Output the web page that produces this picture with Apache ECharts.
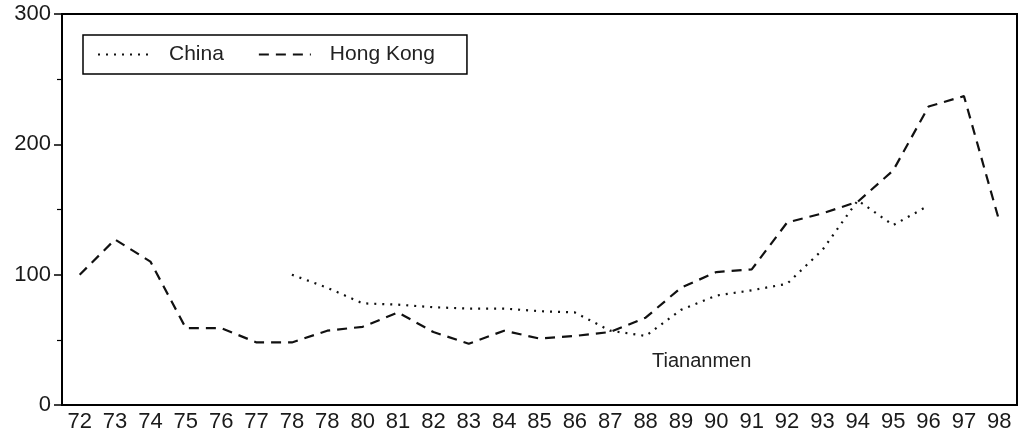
<!DOCTYPE html>
<html>
<head>
<meta charset="utf-8">
<script src="https://cdn.jsdelivr.net/npm/echarts@6/dist/echarts.min.js"></script>
<style>
html,body{margin:0;padding:0;background:#fff;}
#c{width:1029px;height:438px;}
</style>
</head>
<body>
<div id="c"></div>
<script>
const years = ['72','73','74','75','76','77','78','78','80','81','82','83','84','85','86','87','88','89','90','91','92','93','94','95','96','97','98'];
const hongKong = [100,127,110,59,59,48,48,57,60,71,56,47,57,51,53,56,67,90,102,104,140,147,156,180,229,237,141];
const china = [null,null,null,null,null,null,100,90,78,77,75,74,74,72,71,57,53,73,84,88,93,119,157,138,153,null,null];
const yTicks = [0,100,200,300];

const chart = echarts.init(document.getElementById('c'));
chart.setOption({
  animation: false,
  backgroundColor: '#fff',
  textStyle: { fontFamily: 'Liberation Sans, Arial, sans-serif' },
  grid: { left: 62, right: 12, top: 14, bottom: 33, show: true, borderColor: '#000', borderWidth: 2, backgroundColor: 'transparent' },
  legend: {
    left: 83, top: 35,
    orient: 'horizontal',
    itemWidth: 52, itemHeight: 10, itemGap: 34,
    itemStyle: { opacity: 0 },
    borderColor: '#000', borderWidth: 1.5, borderRadius: 0,
    padding: [9, 32, 9, 14],
    textStyle: { fontSize: 21, color: '#222', padding: [0, 0, 0, 14] },
    data: ['China', 'Hong Kong']
  },
  xAxis: {
    type: 'category',
    data: years,
    boundaryGap: true,
    axisLine: { lineStyle: { color: '#000', width: 2 } },
    axisTick: { show: false },
    axisLabel: { fontSize: 22, color: '#1a1a1a', margin: 6, interval: 0 }
  },
  yAxis: {
    type: 'value',
    min: 0, max: 300, interval: 100,
    axisLine: { show: true, lineStyle: { color: '#000', width: 2 } },
    axisTick: { show: true, length: 8, lineStyle: { color: '#000', width: 1.5 } },
    minorTick: { show: true, splitNumber: 2, length: 5, lineStyle: { color: '#000', width: 1.2 } },
    splitLine: { show: false },
    axisLabel: { fontSize: 22, color: '#1a1a1a', margin: 11, formatter: v => yTicks.includes(v) ? String(v) : '' }
  },
  series: [
    {
      name: 'China', type: 'line', data: china, symbol: 'none', connectNulls: false,
      lineStyle: { color: '#111', width: 2.2, type: [2, 6] },
      itemStyle: { color: '#111' }
    },
    {
      name: 'Hong Kong', type: 'line', data: hongKong, symbol: 'none',
      lineStyle: { color: '#111', width: 2.2, type: [10, 7] },
      itemStyle: { color: '#111' }
    }
  ],
  graphic: [
    { type: 'text', left: 652, top: 351, style: { text: 'Tiananmen', fontSize: 20, fill: '#222', fontFamily: 'Liberation Sans, Arial, sans-serif' } }
  ]
});
</script>
</body>
</html>
